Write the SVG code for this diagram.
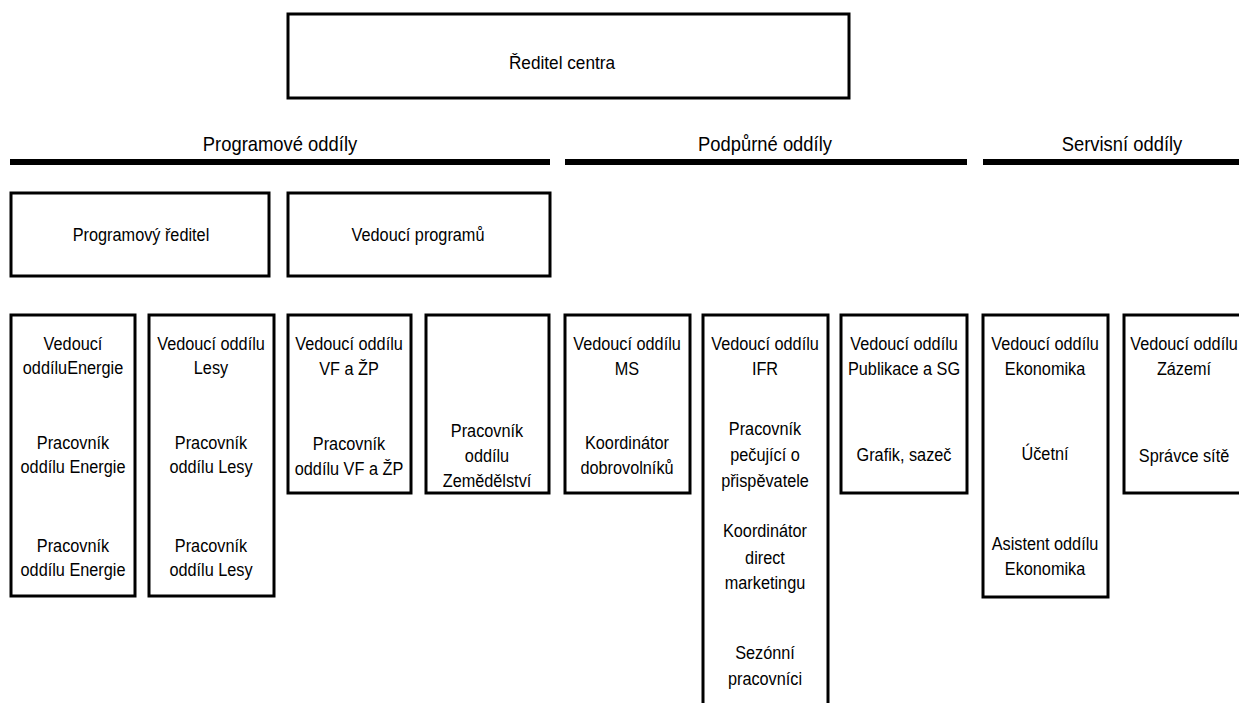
<svg xmlns="http://www.w3.org/2000/svg" width="1239" height="703" viewBox="0 0 1239 703">
<style>
.box{fill:#fff;stroke:#000;stroke-width:3}
.bar{fill:#000}
text{font-family:"Liberation Sans",Arial,sans-serif;fill:#000;text-anchor:middle;font-size:18.5px}
.h text{font-size:20px}
</style>
<rect width="1239" height="703" fill="#fff"/>
<g id="reditel-centra">
<rect class="box" x="288" y="14" width="561" height="84"/>
<g transform="translate(562 0) scale(0.93 1)"><text x="0" y="69">Ředitel centra</text></g>
</g>
<g id="sekce-programove" class="h">
<rect class="bar" x="10" y="159" width="540" height="6"/>
<g transform="translate(280 0) scale(0.92 1)"><text x="0" y="151">Programové oddíly</text></g>
</g>
<g id="sekce-podpurne" class="h">
<rect class="bar" x="565" y="159" width="402" height="6"/>
<g transform="translate(765 0) scale(0.92 1)"><text x="0" y="151">Podpůrné oddíly</text></g>
</g>
<g id="sekce-servisni" class="h">
<rect class="bar" x="983" y="159" width="256" height="6"/>
<g transform="translate(1122 0) scale(0.92 1)"><text x="0" y="151">Servisní oddíly</text></g>
</g>
<g id="programovy-reditel">
<rect class="box" x="11" y="193" width="258" height="83"/>
<g transform="translate(141 0) scale(0.88 1)"><text x="0" y="241">Programový ředitel</text></g>
</g>
<g id="vedouci-programu">
<rect class="box" x="288" y="193" width="262" height="83"/>
<g transform="translate(418 0) scale(0.88 1)"><text x="0" y="241">Vedoucí programů</text></g>
</g>
<g id="oddil-energie">
<rect class="box" x="11" y="315" width="124" height="281"/>
<g transform="translate(73 0) scale(0.88 1)">
<text x="0" y="350">Vedoucí</text>
<text x="0" y="374">oddíluEnergie</text>
<text x="0" y="449">Pracovník</text>
<text x="0" y="473">oddílu Energie</text>
<text x="0" y="552">Pracovník</text>
<text x="0" y="576">oddílu Energie</text>
</g>
</g>
<g id="oddil-lesy">
<rect class="box" x="149" y="315" width="125" height="281"/>
<g transform="translate(211 0) scale(0.88 1)">
<text x="0" y="350">Vedoucí oddílu</text>
<text x="0" y="374">Lesy</text>
<text x="0" y="449">Pracovník</text>
<text x="0" y="473">oddílu Lesy</text>
<text x="0" y="552">Pracovník</text>
<text x="0" y="576">oddílu Lesy</text>
</g>
</g>
<g id="oddil-vf-zp">
<rect class="box" x="288" y="315" width="123" height="178"/>
<g transform="translate(349 0) scale(0.88 1)">
<text x="0" y="350">Vedoucí oddílu</text>
<text x="0" y="375">VF a ŽP</text>
<text x="0" y="450">Pracovník</text>
<text x="0" y="475">oddílu VF a ŽP</text>
</g>
</g>
<g id="oddil-zemedelstvi">
<rect class="box" x="426" y="315" width="123" height="178"/>
<g transform="translate(487 0) scale(0.88 1)">
<text x="0" y="437">Pracovník</text>
<text x="0" y="462">oddílu</text>
<text x="0" y="487">Zemědělství</text>
</g>
</g>
<g id="oddil-ms">
<rect class="box" x="565" y="315" width="125" height="178"/>
<g transform="translate(627 0) scale(0.88 1)">
<text x="0" y="350">Vedoucí oddílu</text>
<text x="0" y="375">MS</text>
<text x="0" y="449">Koordinátor</text>
<text x="0" y="474">dobrovolníků</text>
</g>
</g>
<g id="oddil-ifr">
<rect class="box" x="703" y="315" width="125" height="400"/>
<g transform="translate(765 0) scale(0.88 1)">
<text x="0" y="350">Vedoucí oddílu</text>
<text x="0" y="375">IFR</text>
<text x="0" y="435">Pracovník</text>
<text x="0" y="461">pečující o</text>
<text x="0" y="487">přispěvatele</text>
<text x="0" y="537">Koordinátor</text>
<text x="0" y="564">direct</text>
<text x="0" y="589">marketingu</text>
<text x="0" y="659">Sezónní</text>
<text x="0" y="685">pracovníci</text>
</g>
</g>
<g id="oddil-publikace">
<rect class="box" x="841" y="315" width="126" height="178"/>
<g transform="translate(904 0) scale(0.88 1)">
<text x="0" y="350">Vedoucí oddílu</text>
<text x="0" y="375">Publikace a SG</text>
<text x="0" y="461">Grafik, sazeč</text>
</g>
</g>
<g id="oddil-ekonomika">
<rect class="box" x="983" y="315" width="125" height="282"/>
<g transform="translate(1045 0) scale(0.88 1)">
<text x="0" y="350">Vedoucí oddílu</text>
<text x="0" y="375">Ekonomika</text>
<text x="0" y="460">Účetní</text>
<text x="0" y="550">Asistent oddílu</text>
<text x="0" y="575">Ekonomika</text>
</g>
</g>
<g id="oddil-zazemi">
<rect class="box" x="1124" y="315" width="130" height="178"/>
<g transform="translate(1184 0) scale(0.88 1)">
<text x="0" y="350">Vedoucí oddílu</text>
<text x="0" y="375">Zázemí</text>
<text x="0" y="462">Správce sítě</text>
</g>
</g>
<g id="connectors"></g>
</svg>
